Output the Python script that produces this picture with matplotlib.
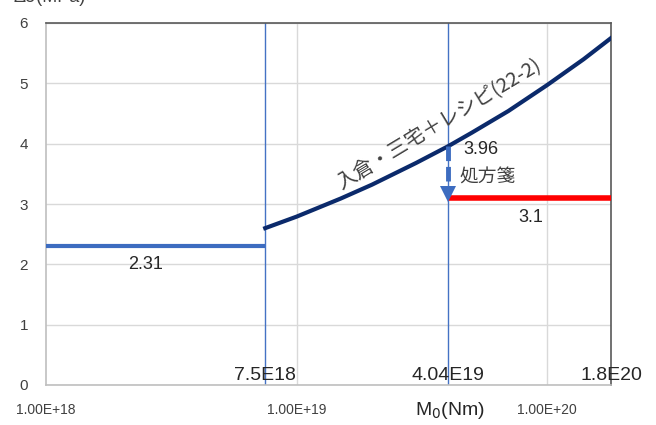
import matplotlib
matplotlib.use("Agg")
import matplotlib.pyplot as plt

plt.rcParams['font.family'] = ['Noto Sans CJK JP', 'DejaVu Sans']

# Seismic moment breakpoints (Nm)
m0_small = [1.0e18, 7.5e18]
dsig_small = [2.31, 2.31]

# Irikura-Miyake + recipe (22-2) curve, read along its length
m0_curve = [7.5e18, 1.0e19, 1.5e19, 2.0e19, 3.0e19, 4.04e19, 5.0e19, 7.0e19, 1.0e20, 1.4e20, 1.8e20]
dsig_curve = [2.60, 2.79, 3.09, 3.32, 3.68, 3.96, 4.18, 4.54, 4.97, 5.40, 5.75]

# Prescribed value
m0_presc = [4.04e19, 1.8e20]
dsig_presc = [3.1, 3.1]

marker_m0 = [7.5e18, 4.04e19, 1.8e20]
marker_labels = ["7.5E18", "4.04E19", "1.8E20"]
decade_ticks = [1e18, 1e19, 1e20]
decade_labels = ["1.00E+18", "1.00E+19", "1.00E+20"]
y_ticks = [0, 1, 2, 3, 4, 5, 6]

fig = plt.figure(figsize=(6.56, 4.25), dpi=100)
ax = fig.add_axes([46/656, 1-385/425, (611-46)/656, (385-23)/425])
ax.set_xscale('log')
ax.set_xlim(1e18, 1.8e20)
ax.set_ylim(0, 6)

# grid
for y in y_ticks:
    ax.axhline(y, color='#d9d9d9', lw=1.0, zorder=0)
for x in decade_ticks[1:]:
    ax.axvline(x, color='#d9d9d9', lw=1.0, zorder=0)

# spines
ax.spines['left'].set_color('#bfbfbf')
ax.spines['bottom'].set_color('#bfbfbf')
ax.spines['top'].set_color('#595959')
ax.spines['right'].set_color('#595959')
for s in ax.spines.values():
    s.set_linewidth(1.2)

ax.set_yticks(y_ticks)
ax.set_yticklabels([str(v) for v in y_ticks], fontsize=11, color='#404040',
                   family=['Liberation Sans', 'DejaVu Sans'])
ax.tick_params(axis='y', length=0, pad=13)
ax.set_xticks([])
ax.xaxis.set_minor_locator(matplotlib.ticker.NullLocator())

# vertical reference lines
for x in marker_m0[:2]:
    ax.axvline(x, color='#4472c4', lw=1.0, zorder=1)

# data lines
ax.plot(m0_small, dsig_small, color='#3d6cc0', lw=3, solid_capstyle='butt', zorder=3)
ax.plot(m0_curve, dsig_curve, color='#0b2a6b', lw=3, zorder=3)
ax.plot(m0_presc, dsig_presc, color='#ff0000', lw=4, solid_capstyle='butt', zorder=3)

# arrow from curve down to the prescribed value
ax.plot([4.04e19, 4.04e19], [3.96, 3.28], color='#3d6cc0', lw=3.5,
        linestyle=(0, (3, 1.2)), zorder=4)
ax.plot([4.04e19], [3.17], marker='v', markersize=11, color='#3d6cc0',
        markeredgewidth=0, zorder=4)

# annotations
txt_font = ['Liberation Sans', 'Noto Sans CJK JP']
ax.text(2.5e18, 2.00, "2.31", fontsize=13, color='#262626', ha='center', va='center',
        family=txt_font)
ax.text(5.45e19, 3.9, "3.96", fontsize=13, color='#262626', ha='center', va='center',
        family=txt_font)
ax.text(5.8e19, 3.45, "処方箋", fontsize=13.5, color='#404040', ha='center', va='center',
        family=['Noto Sans CJK JP', 'DejaVu Sans'])
ax.text(8.6e19, 2.77, "3.1", fontsize=13, color='#262626', ha='center', va='center',
        family=txt_font)
ax.text(3.7e19, 4.31, "入倉・三宅＋レシピ(22-2)", fontsize=14.5, color='#404040',
        ha='center', va='center', rotation=31,
        family=['Noto Sans CJK JP', 'DejaVu Sans'])

# moment labels along the bottom
for x, lab in zip(marker_m0, marker_labels):
    ax.text(x, 0.02, lab, fontsize=14, color='#262626', ha='center', va='bottom',
            family=txt_font, clip_on=False)

# decade labels below the axes
for x, lab in zip(decade_ticks, decade_labels):
    ax.text(x, -0.42, lab, fontsize=10, color='#404040', ha='center', va='center',
            family=txt_font, clip_on=False)

ax.text(4.1e19, -0.42, r"M$_0$(Nm)", fontsize=14, color='#262626',
        ha='center', va='center', family=txt_font, clip_on=False)

fig.text(50/656, 1.005, "Δσ(MPa)", fontsize=13, color='#404040', ha='center',
         va='center', family=txt_font)

fig.savefig("out.png", dpi=100)
